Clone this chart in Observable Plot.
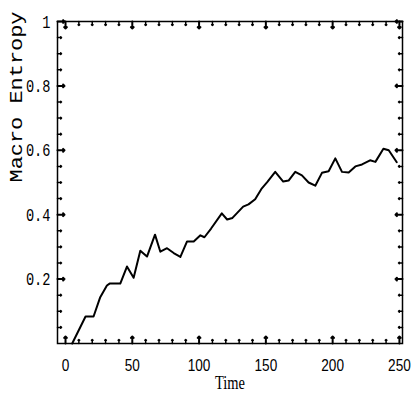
<!DOCTYPE html>
<html><head><meta charset="utf-8">
<script src="https://cdn.jsdelivr.net/npm/d3@7"></script>
<script src="https://cdn.jsdelivr.net/npm/@observablehq/plot@0.6"></script>
<style>body{margin:0;background:#fff}</style>
</head><body><div id="chart"></div>
<script>
const time = [5,15,21,26,31,33,41,46,51,56,61,67,71,76,81,86,91,96,101,104,109,117,121,125,133,137,142,147,151,157,163,167,172,177,182,187,192,197,202,207,212,217,222,228,232,238,242,248];
const entropy = [0,0.084,0.084,0.144,0.18,0.186,0.186,0.239,0.204,0.288,0.27,0.338,0.285,0.296,0.281,0.269,0.317,0.317,0.336,0.33,0.357,0.404,0.385,0.39,0.425,0.432,0.448,0.482,0.501,0.533,0.503,0.506,0.533,0.522,0.5,0.49,0.53,0.535,0.575,0.533,0.531,0.55,0.556,0.569,0.564,0.605,0.6,0.563];
const xMajor = [0,50,100,150,200,250];
const xMinor = [10,20,30,40,60,70,80,90,110,120,130,140,160,170,180,190,210,220,230,240];
const yMajor = [0.2,0.4,0.6,0.8,1];
const yMinor = [0.05,0.1,0.15,0.25,0.3,0.35,0.45,0.5,0.55,0.65,0.7,0.75,0.85,0.9,0.95];
const yTickLabels = ["0.2","0.4","0.6","0.8","1"];
const xTitle = "Time";
const yTitle = "Macro Entropy";

const data = time.map((t, i) => ({t, v: entropy[i]}));
const mono = "'Liberation Mono', 'DejaVu Sans Mono', monospace";
const sans = "'Liberation Sans Narrow', 'Liberation Sans', sans-serif";

const minorLen = 4, majorLen = 7;
// inward tick helpers using the vector mark anchored to the frame edges
const tickVec = (values, channel, frameAnchor, rotate, length, strokeWidth) =>
  Plot.vector(values, {[channel]: d => d, frameAnchor, rotate, length, anchor: "start", stroke: "#000", strokeWidth});

const chart = Plot.plot({
  width: 417, height: 409,
  marginLeft: 57, marginRight: 15, marginTop: 21, marginBottom: 66,
  x: {domain: [-6, 252.3], label: null},
  y: {domain: [0, 1], label: null},
  marks: [
    Plot.line(data, {x: "t", y: "v", stroke: "#000", strokeWidth: 2}),
    tickVec(xMinor, "x", "bottom", 0, minorLen, 1.5),
    tickVec(xMajor, "x", "bottom", 0, majorLen, 2),
    tickVec(xMinor, "x", "top", 180, minorLen, 1.5),
    tickVec(xMajor, "x", "top", 180, majorLen, 2),
    tickVec(yMinor, "y", "left", 90, minorLen, 1.5),
    tickVec(yMajor, "y", "left", 90, majorLen, 2),
    tickVec(yMinor, "y", "right", 270, minorLen, 1.5),
    tickVec(yMajor, "y", "right", 270, majorLen, 2),
    Plot.axisX(xMajor, {anchor: "bottom", tickSize: 0, tickPadding: 15, label: null, fontSize: 17, fontFamily: sans}),
    Plot.axisY(yMajor, {anchor: "left", tickSize: 0, tickPadding: 7, label: null, fontSize: 19, fontFamily: mono,
      tickFormat: (d, i) => yTickLabels[i]}),
    Plot.frame({stroke: "#000", strokeWidth: 1.5}),
    Plot.text([xTitle], {frameAnchor: "bottom", dy: 40, lineAnchor: "middle", fontSize: 18, fontFamily: "'Liberation Serif', serif"}),
    Plot.text([yTitle], {frameAnchor: "left", dx: -42, rotate: -90, lineAnchor: "middle", fontSize: 19, fontFamily: mono})
  ]
});
document.getElementById("chart").append(chart);

function squeeze(sel, factor) {
  chart.querySelectorAll(sel).forEach(t => {
    const L = t.getComputedTextLength();
    t.setAttribute("textLength", (L * factor).toFixed(1));
    t.setAttribute("lengthAdjust", "spacingAndGlyphs");
  });
}
squeeze('g[aria-label="x-axis tick label"] text', 0.8);
squeeze('g[aria-label="y-axis tick label"] text', 0.72);
chart.querySelectorAll('g[aria-label="text"] text').forEach(t => {
  const target = t.textContent === xTitle ? 30 : 171;
  t.setAttribute("textLength", target);
  t.setAttribute("lengthAdjust", "spacingAndGlyphs");
});
</script>
</body></html>
